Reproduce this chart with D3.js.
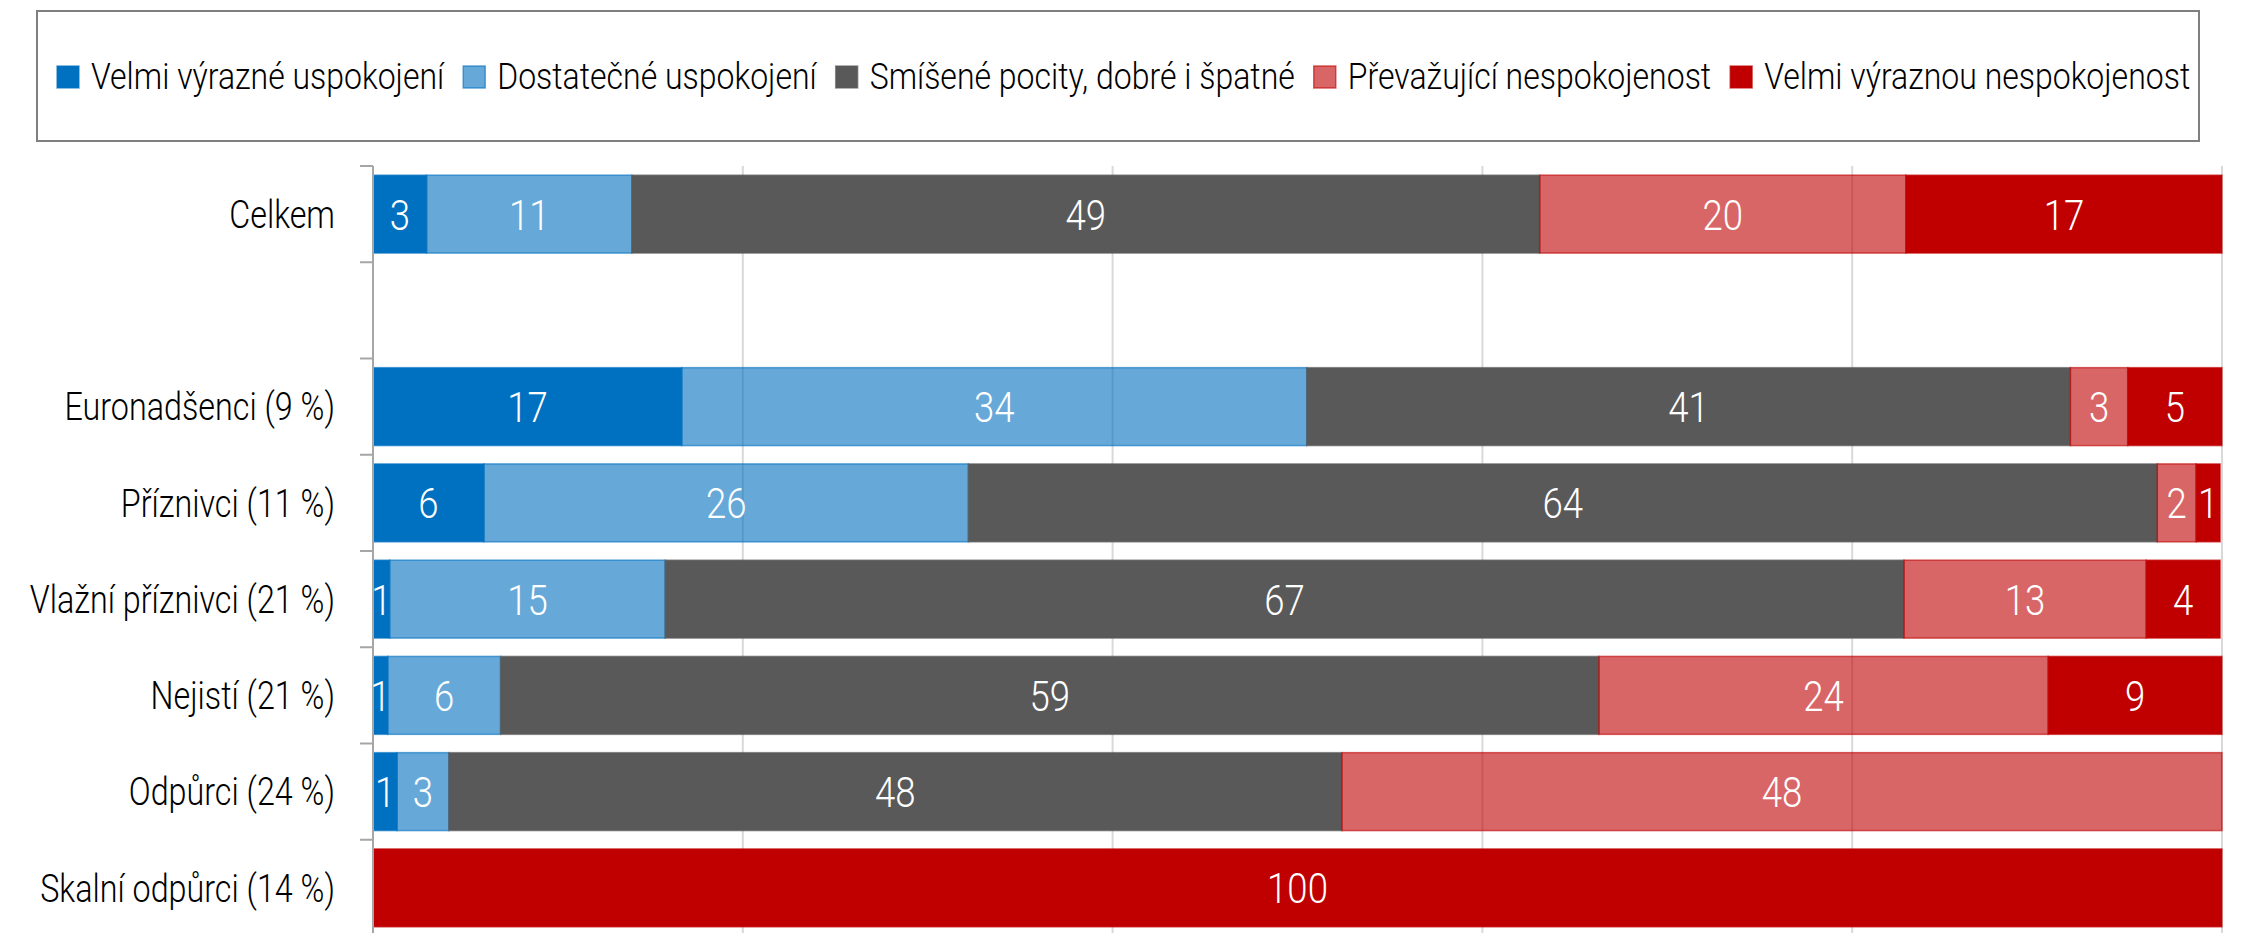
<!DOCTYPE html>
<html>
<head>
<meta charset="utf-8">
<script src="https://cdn.jsdelivr.net/npm/d3@7"></script>
<style>
  html, body { margin: 0; padding: 0; background: #fff; }
  svg { display: block; }
  text { font-family: Roboto, "Noto Sans", sans-serif; font-weight: 300; }
</style>
</head>
<body>
<svg id="chart" width="2244" height="933"></svg>
<script>
// ---- data ----
const categories = [
  "Celkem",
  "",
  "Euronadšenci (9 %)",
  "Příznivci (11 %)",
  "Vlažní příznivci (21 %)",
  "Nejistí (21 %)",
  "Odpůrci (24 %)",
  "Skalní odpůrci (14 %)"
];
const seriesNames = [
  "Velmi výrazné uspokojení",
  "Dostatečné uspokojení",
  "Smíšené pocity, dobré i špatné",
  "Převažující nespokojenost",
  "Velmi výraznou nespokojenost"
];
const veryPositive   = [2.9, null, 16.7, 6.0, 0.9, 0.8, 1.3, 0];
const positive       = [11.1, null, 33.8, 26.2, 14.9, 6.1, 2.8, 0];
const mixed          = [49.1, null, 41.3, 64.3, 67.0, 59.4, 48.3, 0];
const negative       = [19.8, null, 3.1, 2.1, 13.1, 24.3, 47.6, 0];
const veryNegative   = [17.1, null, 5.1, 1.3, 4.0, 9.4, 0, 100];
const xTicks = [0, 20, 40, 60, 80, 100];

const seriesValues = [veryPositive, positive, mixed, negative, veryNegative];
const colors = ["#0070C0", "#0070C0", "#595959", "#C00000", "#C00000"];
const fillOpacity = [1, 0.6, 1, 0.6, 1];

// ---- layout ----
const svg = d3.select("#chart");
const margin = { left: 373, right: 22, top: 166, bottom: -3 };
const W = 2244, H = 933;
const CONDENSE = 0.85;
const LEGEND_CONDENSE = 0.865;

const x = d3.scaleLinear().domain([0, 100]).range([margin.left, W - margin.right]);
const y = d3.scaleBand().domain(categories).range([margin.top, H - margin.bottom])
  .paddingInner(0.19).paddingOuter(0.095);

// rows for stacking
const rows = categories.map((c, i) => {
  const r = { cat: c };
  seriesNames.forEach((s, j) => { r[s] = seriesValues[j][i] == null ? 0 : seriesValues[j][i]; });
  return r;
});
const stack = d3.stack().keys(seriesNames)(rows);

// gridlines
svg.append("g").selectAll("line").data(xTicks.slice(1)).join("line")
  .attr("x1", d => x(d)).attr("x2", d => x(d))
  .attr("y1", margin.top).attr("y2", H - margin.bottom)
  .attr("stroke", "#d9d9d9").attr("stroke-width", 2);

// bars
const layers = svg.append("g").selectAll("g").data(stack).join("g")
  .attr("fill", (d, i) => colors[i])
  .attr("fill-opacity", (d, i) => fillOpacity[i])
  .attr("stroke", (d, i) => colors[i])
  .attr("stroke-opacity", 0.6)
  .attr("stroke-width", 1.5);

layers.selectAll("rect").data(d => d.filter(p => p[1] - p[0] > 0)).join("rect")
  .attr("x", d => x(d[0]))
  .attr("width", d => x(d[1]) - x(d[0]))
  .attr("y", d => y(d.data.cat))
  .attr("height", y.bandwidth());

// y axis line and band ticks
svg.append("line").attr("x1", margin.left).attr("x2", margin.left)
  .attr("y1", margin.top).attr("y2", H - margin.bottom)
  .attr("stroke", "#a6a6a6").attr("stroke-width", 2);
const bounds = categories.map(c => y(c) - y.step() * y.paddingInner() / 2);
svg.append("g").selectAll("line").data(bounds).join("line")
  .attr("x1", margin.left - 13).attr("x2", margin.left)
  .attr("y1", d => d).attr("y2", d => d)
  .attr("stroke", "#a6a6a6").attr("stroke-width", 2);

// category labels (condensed via horizontal scale)
const catG = svg.append("g").selectAll("g").data(categories.filter(c => c !== "")).join("g")
  .attr("transform", d => `translate(${margin.left - 38},${y(d) + y.bandwidth() / 2}) scale(${CONDENSE},1)`);
catG.append("text")
  .attr("dy", "0.36em")
  .attr("text-anchor", "end")
  .attr("font-size", 38)
  .attr("fill", "#000")
  .text(d => d);

// value labels
const valG = svg.append("g").selectAll("g")
  .data(stack.flatMap(layer => layer.filter(p => p[1] - p[0] > 0)))
  .join("g")
  .attr("transform", d => `translate(${(x(d[0]) + x(d[1])) / 2},${y(d.data.cat) + y.bandwidth() / 2}) scale(${CONDENSE},1)`);
valG.append("text")
  .attr("dy", "0.36em")
  .attr("text-anchor", "middle")
  .attr("font-size", 43)
  .attr("fill", "#fff")
  .text(d => Math.round(d[1] - d[0]));

// legend
const lg = svg.append("g");
lg.append("rect").attr("x", 37).attr("y", 11).attr("width", 2162).attr("height", 130)
  .attr("fill", "#fff").attr("stroke", "#7f7f7f").attr("stroke-width", 2);
let lx = 57;
const ly = 77;
seriesNames.forEach((name, i) => {
  lg.append("rect").attr("x", lx).attr("y", ly - 11).attr("width", 22).attr("height", 22)
    .attr("fill", colors[i]).attr("fill-opacity", fillOpacity[i])
    .attr("stroke", colors[i]).attr("stroke-opacity", 0.6).attr("stroke-width", 1.5);
  const g = lg.append("g").attr("transform", `translate(${lx + 34},${ly}) scale(${LEGEND_CONDENSE},1)`);
  const t = g.append("text").attr("dy", "0.33em")
    .attr("font-size", 37).attr("fill", "#000").text(name);
  const w = t.node().getComputedTextLength() * LEGEND_CONDENSE;
  lx = lx + 34 + w + 19;
});
</script>
</body>
</html>
